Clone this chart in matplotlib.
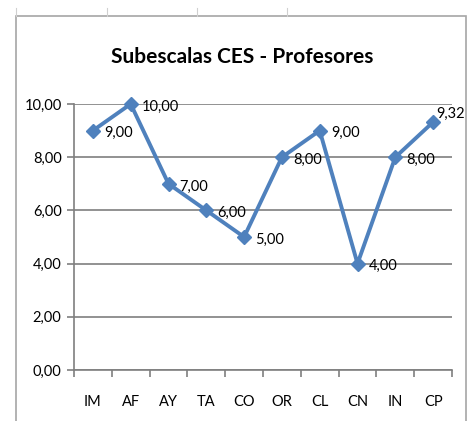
import matplotlib.pyplot as plt
from matplotlib.patches import Rectangle
from matplotlib.lines import Line2D

categories = ['IM', 'AF', 'AY', 'TA', 'CO', 'OR', 'CL', 'CN', 'IN', 'CP']
values = [9.00, 10.00, 7.00, 6.00, 5.00, 8.00, 9.00, 4.00, 8.00, 9.32]
y_ticks = [0, 2, 4, 6, 8, 10]

plt.rcParams['font.family'] = ['Lato', 'DejaVu Sans']

fig = plt.figure(figsize=(4.69, 4.21), dpi=100)

# chart frame, as in the spreadsheet screenshot
fig.patches.append(Rectangle((16 / 469, -0.05), (466 - 16) / 469, 1.05 - 16 / 421,
                             transform=fig.transFigure, fill=False,
                             edgecolor='#a6a6a6', linewidth=1.2))
for x in [16, 107, 197, 287]:
    fig.lines.append(Line2D([x / 469, x / 469], [1 - 8 / 421, 1 - 16 / 421],
                            transform=fig.transFigure, color='#d0d0d0', lw=0.8))

ax = fig.add_axes([74 / 469, 51 / 421, (452 - 74) / 469, (370 - 104) / 421])

x = list(range(len(categories)))
ax.plot(x, values, color='#4f81bd', lw=2.8, marker='D', markersize=7,
        markeredgecolor='#4f81bd', zorder=3, clip_on=False)

for xi, v in zip(x, values):
    offset = (2, 6) if xi == len(categories) - 1 else (8, -2)
    ax.annotate(f'{v:.2f}'.replace('.', ','), (xi, v), xytext=offset,
                textcoords='offset points', ha='left', va='center',
                fontsize=10.5, color='black')

ax.set_xlim(-0.5, len(categories) - 0.5)
ax.set_ylim(0, 10)
ax.set_yticks(y_ticks)
ax.set_yticklabels([f'{t:.2f}'.replace('.', ',') for t in y_ticks], fontsize=10.5)
ax.grid(axis='y', color='#7f7f7f', lw=1.2)
ax.set_axisbelow(True)

ax.set_xticks(x)
ax.set_xticklabels(categories, fontsize=10.5)
ax.tick_params(axis='x', length=0, pad=18)
ax.set_xticks([i - 0.5 for i in range(len(categories) + 1)], minor=True)
ax.tick_params(axis='x', which='minor', length=5, color='#7f7f7f', width=1.2)
ax.tick_params(axis='y', length=5, color='#7f7f7f', width=1.2, pad=4)

for s in ['top', 'right']:
    ax.spines[s].set_visible(False)
for s in ['left', 'bottom']:
    ax.spines[s].set_color('#7f7f7f')
    ax.spines[s].set_linewidth(1.2)

fig.text(242 / 469, 1 - 57 / 421, 'Subescalas CES - Profesores', ha='center',
         va='center', fontsize=15, fontweight='bold')

fig.savefig('out.png', dpi=100)
